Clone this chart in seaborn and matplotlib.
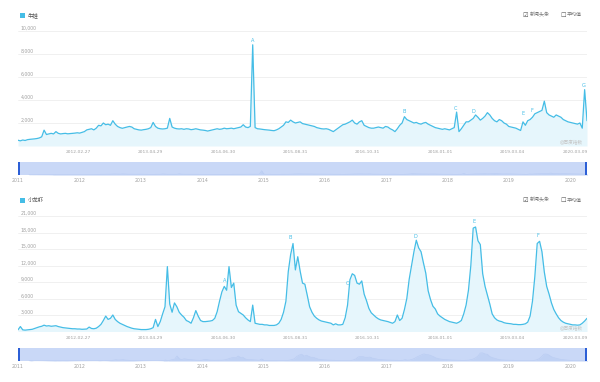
import numpy as np
import pandas as pd
import matplotlib
matplotlib.use("Agg")
import matplotlib.pyplot as plt
import matplotlib.transforms as mtrans
from matplotlib.patches import Rectangle
import seaborn as sns

# ---------------- data ----------------
start_date = "2011-03-07"
step = "14D"

frog = [
    500, 450, 520, 480, 550, 580, 600, 620, 650, 700,
    800, 1380, 1000, 1050, 1100, 1050, 1250, 1100, 1050, 1080,
    1100, 1060, 1080, 1100, 1120, 1150, 1120, 1180, 1250, 1400,
    1450, 1500, 1400, 1550, 1800, 1750, 2000, 1850, 1900, 1800,
    2200, 1900, 1700, 1600, 1540, 1600, 1650, 1700, 1650, 1500,
    1450, 1400, 1380, 1420, 1450, 1500, 1600, 2050, 1700, 1550,
    1500, 1480, 1500, 1550, 2400, 1650, 1550, 1500, 1480, 1500,
    1450, 1500, 1480, 1420, 1450, 1500, 1450, 1400, 1380, 1350,
    1300, 1350, 1400, 1450, 1500, 1450, 1480, 1550, 1500, 1520,
    1550, 1500, 1550, 1600, 1650, 1850, 1650, 1600, 1700, 8800,
    1600, 1500, 1480, 1450, 1420, 1400, 1380, 1350, 1330, 1400,
    1500, 1650, 1800, 2100, 2050, 2250, 2100, 2000, 2050, 2100,
    1950, 1900, 1850, 1800, 1750, 1700, 1600, 1550, 1500, 1480,
    1500, 1450, 1350, 1250, 1400, 1550, 1700, 1850, 1900, 2000,
    2100, 2250, 2000, 1900, 2100, 2200, 1800, 1700, 1600, 1550,
    1550, 1600, 1650, 1600, 1550, 1700, 1650, 1500, 1400, 1250,
    1500, 1800, 2000, 2550, 2300, 2200, 2100, 2000, 2050, 1950,
    1900, 2000, 2050, 1900, 1800, 1700, 1600, 1550, 1500, 1450,
    1500, 1450, 1400, 1500, 1600, 2950, 1250, 1500, 1800, 2100,
    2100, 2250, 2400, 2700, 2500, 2250, 2400, 2600, 2900, 2700,
    2400, 2200, 2100, 2300, 2200, 2000, 1900, 1700, 1650, 1600,
    1550, 1450, 1350, 2100, 1800, 2200, 2300, 2500, 2800, 2900,
    3000, 3100, 3900, 2900, 2700, 2600, 2500, 2700, 2600, 2500,
    2300, 2200, 2100, 2050, 2000, 1950, 1900, 2000, 1550, 4900,
    2200,
]

crayfish = [
    300, 900, 300, 250, 300, 350, 400, 550, 700, 850,
    950, 1150, 1000, 1050, 950, 1000, 1050, 900, 800, 700,
    650, 600, 550, 500, 500, 450, 450, 400, 420, 450,
    800, 550, 500, 600, 900, 1300, 2000, 2800, 2200, 2400,
    3000, 2200, 1800, 1500, 1300, 1100, 900, 750, 600, 500,
    450, 400, 350, 350, 350, 400, 500, 700, 2200, 900,
    1800, 3200, 4500, 11800, 5000, 3500, 5200, 4500, 3500, 3000,
    2600, 2000, 1800, 1500, 2500, 3800, 2800, 2000, 1800, 1800,
    1850, 1900, 2000, 2400, 3600, 5500, 7200, 8200, 7500, 11800,
    8000, 8800, 4800, 3600, 3300, 3000, 2500, 2100, 1800, 4800,
    1500, 1400, 1300, 1300, 1200, 1200, 1100, 1100, 1100, 1200,
    1500, 2200, 3500, 5500, 10900, 14000, 16000, 11200, 13600, 11000,
    8800, 8600, 6600, 4500, 3500, 2800, 2400, 2100, 1900, 1800,
    1700, 1600, 1500, 1200, 1400, 1200, 1200, 1300, 2500, 4800,
    9400, 10500, 10200, 8800, 8600, 9200, 6800, 5600, 4200, 3400,
    3000, 2600, 2300, 2100, 2000, 1900, 1800, 1650, 1500, 1800,
    3000, 2000, 2400, 4000, 6000, 9500, 12000, 14500, 16600, 15200,
    14500, 12500, 10600, 7400, 5800, 4600, 4100, 3200, 2800, 2500,
    2200, 2000, 1800, 1700, 1600, 1500, 1700, 2000, 3200, 4800,
    7500, 12000, 18800, 19000, 16500, 15800, 10500, 8200, 6600, 5000,
    3200, 2500, 2100, 1900, 1800, 1600, 1500, 1450, 1400, 1300,
    1300, 1250, 1250, 1300, 1400, 1700, 2800, 5500, 10000, 16000,
    16400, 14500, 10800, 8200, 6800, 5200, 4000, 3200, 2500, 2000,
    1700, 1500, 1400, 1300, 1200, 1200, 1150, 1200, 1500, 1900,
    2400,
]

top_title = "牛蛙"
bottom_title = "小龙虾"
legend_items = ["新闻头条", "平均值"]
watermark = "@百度指数"
date_ticks = ["2012-02-27", "2013-04-29", "2014-06-30", "2015-08-31",
              "2016-10-31", "2018-01-01", "2019-03-04", "2020-03-09"]
year_labels = ["2011", "2012", "2013", "2014", "2015", "2016", "2017",
               "2018", "2019", "2020"]
top_yticks = [2000, 4000, 6000, 8000, 10000]
bottom_yticks = [3000, 6000, 9000, 12000, 15000, 18000, 21000]
top_marks = ["A", "B", "C", "D", "E", "F", "G"]
top_mark_idx = [99, 163, 185, 193, 213, 217, 239]
bottom_marks = ["A", "B", "C", "D", "E", "F"]
bottom_mark_idx = [87, 116, 139, 168, 193, 220]

# ---------------- style ----------------
sns.set_style("white")
plt.rcParams["font.family"] = ["DejaVu Sans", "Noto Sans CJK SC"]

LINE = "#45bde6"
FILL = "#e6f6fc"
GRID = "#eeeeee"
TXT = "#a0a0a0"
SLIDER = "#c9d8f7"
HANDLE = "#2c5fd6"

W, H = 600, 382
fig = plt.figure(figsize=(W / 100, H / 100), dpi=100)
fig.patch.set_facecolor("white")


def rect(x0, y0, x1, y1):
    return [x0 / W, 1 - y1 / H, (x1 - x0) / W, (y1 - y0) / H]


def fx(x):
    return x / W


def fy(y):
    return 1 - y / H


dates = pd.date_range(start_date, periods=len(frog), freq=step)
slider_lim = (pd.Timestamp("2011-01-07"), pd.Timestamp("2020-04-11"))


def panel(y_top, y_zero, ytop_val, values, yticks, marks, mark_idx, offsets,
          title, y_title, slider_y, wm_y, ghost_scale):
    df = pd.DataFrame({"date": dates, "value": values})
    ax = fig.add_axes(rect(18, y_top, 587, y_zero))
    ax.fill_between(df["date"], df["value"], color=FILL, lw=0, zorder=1)
    sns.lineplot(data=df, x="date", y="value", ax=ax, color=LINE, lw=0.9,
                 zorder=3)
    ax.set_xlim(dates[0], dates[-1])
    ax.set_ylim(0, ytop_val)
    for s in ax.spines.values():
        s.set_visible(False)
    ax.set_xlabel("")
    ax.set_ylabel("")
    ax.set_yticks(yticks)
    ax.set_yticklabels([])
    ax.grid(axis="y", color=GRID, lw=0.6)
    ax.set_axisbelow(True)
    ax.tick_params(axis="y", length=0)
    tr = mtrans.blended_transform_factory(ax.transAxes, ax.transData)
    for v in yticks:
        ax.text(0.005, v, f"{v:,}", transform=tr, ha="left", va="bottom",
                fontsize=3.3, color=TXT)
    ax.set_xticks(pd.to_datetime(date_ticks))
    ax.set_xticklabels(date_ticks, fontsize=3.2, color=TXT)
    ax.tick_params(axis="x", length=0, pad=3)
    for m, i, (dx, dy) in zip(marks, mark_idx, offsets):
        ax.annotate(m, (dates[i], values[i]), xytext=(dx, dy),
                    textcoords="offset pixels", ha="center", va="center",
                    fontsize=3.6, color=LINE, zorder=4)
    fig.text(fx(583), fy(wm_y), watermark, ha="right", va="center",
             fontsize=3.3, color="#c4c4c4")

    # title and legend row
    fig.add_artist(Rectangle((fx(20), fy(y_title + 2.5)), 5 / W, 5 / H,
                             transform=fig.transFigure, color=LINE, lw=0))
    fig.text(fx(28), fy(y_title), title, ha="left", va="center",
             fontsize=3.9, color="#555555")
    fig.text(fx(522), fy(y_title), "\u2611", ha="left", va="center",
             fontsize=4.5, color="#555555")
    fig.text(fx(530), fy(y_title), legend_items[0], ha="left", va="center",
             fontsize=3.6, color="#777777")
    fig.text(fx(560), fy(y_title), "\u2610", ha="left", va="center",
             fontsize=4.5, color="#555555")
    fig.text(fx(567), fy(y_title), legend_items[1], ha="left", va="center",
             fontsize=3.6, color="#777777")

    # slider
    axs = fig.add_axes(rect(18, slider_y, 587, slider_y + 13))
    axs.set_facecolor(SLIDER)
    axs.fill_between(df["date"], df["value"], color="#bfd1f4", lw=0)
    axs.plot(df["date"], df["value"], color="#b8cbf2", lw=0.4)
    axs.set_xlim(*slider_lim)
    axs.set_ylim(0, max(values) * ghost_scale)
    for s in axs.spines.values():
        s.set_visible(False)
    axs.set_yticks([])
    axs.set_xticks([pd.Timestamp(f"{y}-01-01") for y in year_labels])
    axs.set_xticklabels(year_labels, fontsize=3.3, color=TXT)
    axs.tick_params(axis="x", length=0, pad=2)
    for xa in (0, 1 - 2.2 / 569):
        axs.add_patch(Rectangle((xa, 0), 2.2 / 569, 1,
                                transform=axs.transAxes, color=HANDLE, lw=0,
                                zorder=5))
    return ax


panel(25, 146, 121 / 11.5 * 1000, frog, top_yticks, top_marks, top_mark_idx,
      [(0, 4), (0, 5.5), (-1, 4), (-2, 3), (0, 8), (-1, 7), (-1, 4.5)],
      top_title, 15, 162, 142, 3.0)

panel(207.75, 331.5, 22500, crayfish, bottom_yticks, bottom_marks,
      bottom_mark_idx,
      [(0, 5.5), (-3, 5.5), (0, 22), (-1, 4), (-2, 5), (-2, 6)],
      bottom_title, 200, 348, 328, 1.6)

fig.savefig("out.png", dpi=100, facecolor="white")
